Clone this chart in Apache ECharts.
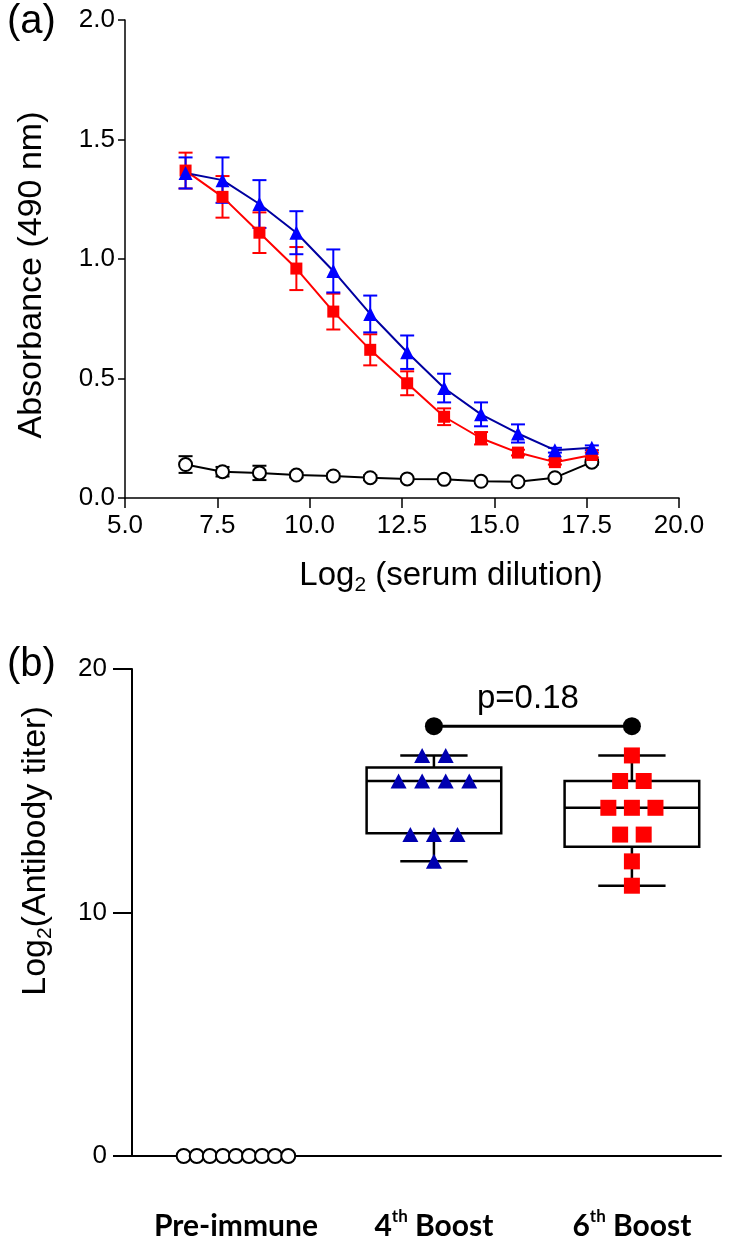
<!DOCTYPE html>
<html>
<head>
<meta charset="utf-8">
<script src="https://cdn.jsdelivr.net/npm/echarts@6/dist/echarts.min.js"></script>
<style>
html,body{margin:0;padding:0;background:#fff;}
#chart{width:729px;height:1248px;}
</style>
</head>
<body>
<div id="chart"></div>
<script>
// ---------- Panel (a) data ----------
const dilution   = [6.64, 7.64, 8.64, 9.64, 10.64, 11.64, 12.64, 13.64, 14.64, 15.64, 16.64, 17.64];
const redMean    = [1.37, 1.26, 1.11, 0.96, 0.78, 0.62, 0.48, 0.34, 0.25, 0.19, 0.15, 0.18];
const redErr     = [0.075, 0.087, 0.085, 0.09, 0.075, 0.065, 0.05, 0.035, 0.026, 0.012, 0.01, 0.01];
const blueMean   = [1.36, 1.33, 1.23, 1.11, 0.95, 0.77, 0.61, 0.46, 0.35, 0.27, 0.20, 0.21];
const blueErr    = [0.065, 0.095, 0.1, 0.09, 0.09, 0.077, 0.07, 0.06, 0.05, 0.038, 0.01, 0.01];
const blackMean  = [0.14, 0.11, 0.105, 0.096, 0.092, 0.085, 0.08, 0.078, 0.07, 0.068, 0.085, 0.15];
const blackErr   = [0.035, 0.02, 0.03, 0.01, 0.01, 0.01, 0.005, 0.005, 0.005, 0.005, 0.005, 0.01];
const xTicksA    = {min: 5, max: 20, interval: 2.5};
const yTicksA    = {min: 0, max: 2, interval: 0.5};

// ---------- Panel (b) data ----------
const groups     = ['Pre-immune', '4th Boost', '6th Boost'];
const preImmune  = [0, 0, 0, 0, 0, 0, 0, 0, 0];
const boost4     = [16.45, 16.45, 15.4, 15.4, 15.4, 15.4, 13.2, 13.2, 13.2, 12.1];
const boost6     = [16.45, 15.4, 15.4, 14.3, 14.3, 14.3, 13.2, 13.2, 12.1, 11.1];
// box stats: [min, Q1, median, Q3, max]
const box4       = [12.1, 13.25, 15.4, 15.95, 16.45];
const box6       = [11.1, 12.7, 14.3, 15.4, 16.45];
const pLabel     = 'p=0.18';
const pBracketY  = 17.65;
const yTicksB    = {min: 0, max: 20, interval: 10};

const FONT = "'Liberation Sans', Arial, Helvetica, sans-serif";
const RED = '#ff0000', BLUE = '#0000ff', BLUELINE = '#0000a0', BLUEDARK = '#0000b0';

function errSeries(means, errs, color) {
  return {
    type: 'custom', xAxisIndex: 0, yAxisIndex: 0, clip: false,
    data: dilution.map((x, i) => [x, means[i], errs[i]]),
    encode: {x: 0, y: 1},
    renderItem: function (params, api) {
      const x = api.value(0), y = api.value(1), e = api.value(2);
      const t = api.coord([x, y + e]), b = api.coord([x, y - e]);
      const hw = 7, st = {stroke: color, lineWidth: 2};
      return {type: 'group', children: [
        {type: 'line', shape: {x1: t[0], y1: t[1], x2: b[0], y2: b[1]}, style: st},
        {type: 'line', shape: {x1: t[0] - hw, y1: t[1], x2: t[0] + hw, y2: t[1]}, style: st},
        {type: 'line', shape: {x1: b[0] - hw, y1: b[1], x2: b[0] + hw, y2: b[1]}, style: st}
      ]};
    }
  };
}

function lineSeries(means, symbol, size, itemStyle, lineColor) {
  return {
    type: 'line', xAxisIndex: 0, yAxisIndex: 0,
    data: dilution.map((x, i) => [x, means[i]]),
    symbol: symbol, symbolSize: size, showSymbol: true,
    lineStyle: {color: lineColor, width: 2},
    itemStyle: itemStyle,
    emphasis: {disabled: true}
  };
}

// arrange equal values side by side (column scatter), centred on the group
function spread(values, cat, step) {
  const counts = {}, seen = {};
  values.forEach(v => { counts[v] = (counts[v] || 0) + 1; });
  return values.map(v => {
    const k = counts[v];
    const j = seen[v] = (seen[v] === undefined ? 0 : seen[v] + 1);
    return [cat + (j - (k - 1) / 2) * step, v];
  });
}

function boxSeries(stats, cat) {
  return {
    type: 'custom', xAxisIndex: 1, yAxisIndex: 1, clip: false, z: 2,
    data: [[cat].concat(stats)],
    encode: {x: 0, y: [1, 2, 3, 4, 5]},
    renderItem: function (params, api) {
      const c = api.value(0);
      const pMin = api.coord([c, api.value(1)]), pQ1 = api.coord([c, api.value(2)]);
      const pMed = api.coord([c, api.value(3)]), pQ3 = api.coord([c, api.value(4)]);
      const pMax = api.coord([c, api.value(5)]);
      const bw = api.size([0.68, 0])[0], cw = bw / 2;
      const x = pMed[0];
      const st = {stroke: '#000', lineWidth: 2.5, fill: null};
      return {type: 'group', children: [
        {type: 'rect', shape: {x: x - bw / 2, y: pQ3[1], width: bw, height: pQ1[1] - pQ3[1]}, style: {stroke: '#000', lineWidth: 2.5, fill: 'none'}},
        {type: 'line', shape: {x1: x - bw / 2, y1: pMed[1], x2: x + bw / 2, y2: pMed[1]}, style: st},
        {type: 'line', shape: {x1: x, y1: pQ3[1], x2: x, y2: pMax[1]}, style: st},
        {type: 'line', shape: {x1: x, y1: pQ1[1], x2: x, y2: pMin[1]}, style: st},
        {type: 'line', shape: {x1: x - cw / 2, y1: pMax[1], x2: x + cw / 2, y2: pMax[1]}, style: st},
        {type: 'line', shape: {x1: x - cw / 2, y1: pMin[1], x2: x + cw / 2, y2: pMin[1]}, style: st}
      ]};
    }
  };
}

const richTick = {
  n: {fontFamily: 'Lato, "Open Sans", sans-serif', fontWeight: 'bold', fontSize: 30, color: '#000', lineHeight: 36},
  sup: {fontFamily: 'Lato, "Open Sans", sans-serif', fontWeight: 'bold', fontSize: 17, color: '#000', lineHeight: 18, verticalAlign: 'top'}
};

function groupLabel(v) {
  const name = groups[Math.round(v)];
  if (!name) return '';
  const m = name.match(/^(\d)(st|nd|rd|th)(.*)$/);
  if (m) return '{n|' + m[1] + '}{sup|' + m[2] + '}{n|' + m[3] + '}';
  return '{n|' + name + '}';
}

const chart = echarts.init(document.getElementById('chart'), null, {renderer: 'canvas'});
const axisLineA = {show: true, onZero: false, lineStyle: {color: '#000', width: 1.5}};
const axisLineB = {show: true, onZero: false, lineStyle: {color: '#000', width: 2}};

chart.setOption({
  animation: false,
  backgroundColor: '#fff',
  grid: [
    {left: 125, top: 20, width: 554, height: 478},
    {left: 132, top: 669, width: 589, height: 487}
  ],
  xAxis: [
    {gridIndex: 0, type: 'value', min: xTicksA.min, max: xTicksA.max, interval: xTicksA.interval,
     axisLine: axisLineA, axisTick: {show: true, inside: false, length: 10, lineStyle: {color: '#000', width: 1.5}},
     axisLabel: {color: '#000', fontFamily: FONT, fontSize: 26, margin: 15, formatter: v => v.toFixed(1)},
     splitLine: {show: false}},
    {gridIndex: 1, type: 'value', min: -0.525, max: 2.45,
     axisLine: axisLineB, axisTick: {show: false},
     axisLabel: {show: true, customValues: [0, 1, 2], margin: 52, formatter: groupLabel, rich: richTick},
     splitLine: {show: false}}
  ],
  yAxis: [
    {gridIndex: 0, type: 'value', min: yTicksA.min, max: yTicksA.max, interval: yTicksA.interval,
     axisLine: axisLineA, axisTick: {show: true, inside: false, length: 7, lineStyle: {color: '#000', width: 1.5}},
     axisLabel: {color: '#000', fontFamily: FONT, fontSize: 26, margin: 10, formatter: v => v.toFixed(1)},
     splitLine: {show: false}},
    {gridIndex: 1, type: 'value', min: yTicksB.min, max: yTicksB.max, interval: yTicksB.interval,
     axisLine: axisLineB, axisTick: {show: true, inside: false, length: 19, lineStyle: {color: '#000', width: 2}},
     axisLabel: {color: '#000', fontFamily: FONT, fontSize: 26, margin: 25},
     splitLine: {show: false}}
  ],
  series: [
    errSeries(blackMean, blackErr, '#000'),
    lineSeries(blackMean, 'circle', 13, {color: '#fff', borderColor: '#000', borderWidth: 2}, '#000'),
    errSeries(redMean, redErr, RED),
    lineSeries(redMean, 'rect', 12, {color: RED}, RED),
    errSeries(blueMean, blueErr, BLUE),
    lineSeries(blueMean, 'triangle', 14, {color: BLUE}, BLUELINE),

    boxSeries(box4, 1),
    boxSeries(box6, 2),
    {type: 'scatter', xAxisIndex: 1, yAxisIndex: 1, clip: false, z: 3,
     data: spread(preImmune, 0, 0.066), symbol: 'circle', symbolSize: 14,
     itemStyle: {color: '#fff', borderColor: '#000', borderWidth: 2, opacity: 1}},
    {type: 'scatter', xAxisIndex: 1, yAxisIndex: 1, clip: false, z: 3,
     data: spread(boost4, 1, 0.119), symbol: 'triangle', symbolSize: [16, 15],
     itemStyle: {color: BLUEDARK, opacity: 1}},
    {type: 'scatter', xAxisIndex: 1, yAxisIndex: 1, clip: false, z: 3,
     data: spread(boost6, 2, 0.119), symbol: 'rect', symbolSize: 16,
     itemStyle: {color: RED, opacity: 1}},
    {type: 'custom', xAxisIndex: 1, yAxisIndex: 1, clip: false, z: 3,
     data: [[1, 2, pBracketY]], encode: {x: [0, 1], y: 2},
     renderItem: function (params, api) {
       const a = api.coord([api.value(0), api.value(2)]);
       const b = api.coord([api.value(1), api.value(2)]);
       return {type: 'group', children: [
         {type: 'line', shape: {x1: a[0], y1: a[1], x2: b[0], y2: b[1]}, style: {stroke: '#000', lineWidth: 3}},
         {type: 'circle', shape: {cx: a[0], cy: a[1], r: 9}, style: {fill: '#000'}},
         {type: 'circle', shape: {cx: b[0], cy: b[1], r: 9}, style: {fill: '#000'}},
         {type: 'text', x: (a[0] + b[0]) / 2 - 5, y: a[1] - 27,
          style: {text: pLabel, fill: '#000', font: '33px ' + FONT, align: 'center', verticalAlign: 'middle'}}
       ]};
     }}
  ],
  graphic: [
    {type: 'text', left: 7, top: 2, style: {text: '(a)', fill: '#000', font: '40px ' + FONT}},
    {type: 'text', left: 7, top: 645, style: {text: '(b)', fill: '#000', font: '40px ' + FONT}},
    {type: 'text', x: 32, y: 275, rotation: Math.PI / 2,
     style: {text: 'Absorbance (490 nm)', fill: '#000', font: '34px ' + FONT, align: 'center', verticalAlign: 'middle'}},
    {type: 'text', x: 451, y: 576,
     style: {text: '{t|Log}{s|2}{t| (serum dilution)}', align: 'center', verticalAlign: 'middle',
       rich: {t: {fontFamily: FONT, fontSize: 33, fill: '#000', color: '#000', lineHeight: 40},
              s: {fontFamily: FONT, fontSize: 21, fill: '#000', color: '#000', lineHeight: 22, verticalAlign: 'bottom'}}}},
    {type: 'text', x: 36, y: 851, rotation: Math.PI / 2,
     style: {text: '{t|Log}{s|2}{t|(Antibody titer)}', align: 'center', verticalAlign: 'middle',
       rich: {t: {fontFamily: FONT, fontSize: 34, fill: '#000', color: '#000', lineHeight: 40},
              s: {fontFamily: FONT, fontSize: 21, fill: '#000', color: '#000', lineHeight: 22, verticalAlign: 'bottom'}}}}
  ]
});
</script>
</body>
</html>
